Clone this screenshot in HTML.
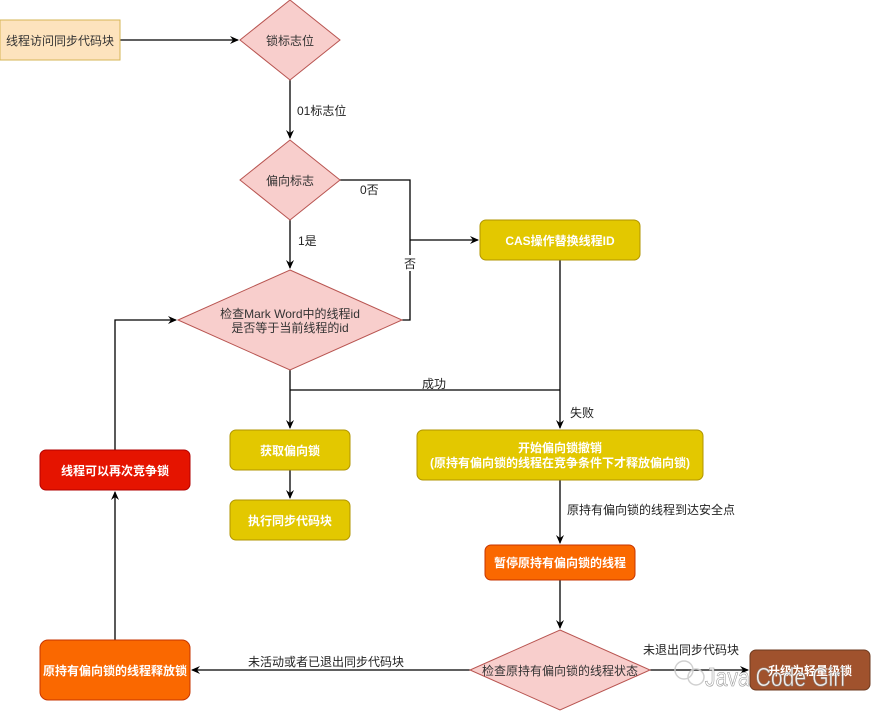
<!DOCTYPE html>
<html><head><meta charset="utf-8"><style>
html,body{margin:0;padding:0;background:#fff;}
svg{display:block;font-family:"Liberation Sans","Noto Sans CJK SC",sans-serif;}
</style></head><body>
<svg width="871" height="711" viewBox="0 0 871 711" xmlns="http://www.w3.org/2000/svg">
<defs><marker id="a" markerWidth="10" markerHeight="10" refX="8" refY="5" orient="auto" markerUnits="userSpaceOnUse"><path d="M0,1 L9,5 L0,9 L3,5 Z" fill="#000"/></marker></defs>
<g stroke="#000" stroke-width="1.3" fill="none">
<path d="M120,40 H238" marker-end="url(#a)"/>
<path d="M290,80 V138" marker-end="url(#a)"/>
<path d="M290,220 V268" marker-end="url(#a)"/>
<path d="M340,180 H410 V320 H402"/>
<path d="M410,240 H478" marker-end="url(#a)"/>
<path d="M290,370 V428" marker-end="url(#a)"/>
<path d="M290,390 H560"/>
<path d="M560,260 V428" marker-end="url(#a)"/>
<path d="M290,470 V498" marker-end="url(#a)"/>
<path d="M560,480 V543" marker-end="url(#a)"/>
<path d="M560,580 V628" marker-end="url(#a)"/>
<path d="M650,670 H748" marker-end="url(#a)"/>
<path d="M470,670 H192" marker-end="url(#a)"/>
<path d="M115,640 V492" marker-end="url(#a)"/>
<path d="M115,450 V320 H176" marker-end="url(#a)"/>
</g>
<rect x="0" y="20" width="120" height="40" fill="#fde3bd" stroke="#d6b656"/>
<text x="60" y="45" font-size="12" text-anchor="middle" fill="#333">线程访问同步代码块</text>
<polygon points="290,0 340,40 290,80 240,40" fill="#f8cecc" stroke="#b85450"/>
<text x="290" y="45" font-size="12" text-anchor="middle" fill="#333">锁标志位</text>
<polygon points="290,140 340,180 290,220 240,180" fill="#f8cecc" stroke="#b85450"/>
<text x="290" y="185" font-size="12" text-anchor="middle" fill="#333">偏向标志</text>
<polygon points="290,270 402,320 290,370 178,320" fill="#f8cecc" stroke="#b85450"/>
<text x="290" y="318" font-size="12" text-anchor="middle" fill="#333">检查Mark Word中的线程id</text>
<text x="290" y="332" font-size="12" text-anchor="middle" fill="#333">是否等于当前线程的id</text>
<polygon points="560,630 650,670 560,710 470,670" fill="#f8cecc" stroke="#b85450"/>
<text x="560" y="675" font-size="12" text-anchor="middle" fill="#333">检查原持有偏向锁的线程状态</text>
<g font-size="12" fill="#222">
<text x="297" y="115">01标志位</text>
<text x="360" y="194">0否</text>
<text x="298" y="245">1是</text>
<rect x="403" y="255" width="14" height="16" fill="#fff"/>
<text x="404" y="268">否</text>
<text x="422" y="388">成功</text>
<text x="570" y="417">失败</text>
<text x="567" y="514">原持有偏向锁的线程到达安全点</text>
<text x="643" y="654">未退出同步代码块</text>
<text x="248" y="666">未活动或者已退出同步代码块</text>
</g>
<g font-size="12" font-weight="bold" fill="#fff" text-anchor="middle">
<rect x="480" y="220" width="160" height="40" rx="6" fill="#e3c800" stroke="#b09500"/>
<text x="560" y="245">CAS操作替换线程ID</text>
<rect x="230" y="430" width="120" height="40" rx="6" fill="#e3c800" stroke="#b09500"/>
<text x="290" y="455">获取偏向锁</text>
<rect x="230" y="500" width="120" height="40" rx="6" fill="#e3c800" stroke="#b09500"/>
<text x="290" y="525">执行同步代码块</text>
<rect x="417" y="430" width="286" height="50" rx="6" fill="#e3c800" stroke="#b09500"/>
<text x="560" y="452">开始偏向锁撤销</text>
<text x="560" y="467">(原持有偏向锁的线程在竞争条件下才释放偏向锁)</text>
<rect x="485" y="545" width="150" height="35" rx="6" fill="#fa6800" stroke="#c73500"/>
<text x="560" y="567">暂停原持有偏向锁的线程</text>
<rect x="40" y="450" width="150" height="40" rx="6" fill="#e51400" stroke="#b20000"/>
<text x="115" y="475">线程可以再次竞争锁</text>
<rect x="40" y="640" width="150" height="60" rx="8" fill="#fa6800" stroke="#c73500"/>
<text x="115" y="675">原持有偏向锁的线程释放锁</text>
<rect x="750" y="650" width="120" height="40" rx="6" fill="#a0522d" stroke="#6d3a1f"/>
<text x="810" y="675">升级为轻量级锁</text>
</g>
<g opacity="0.9">
<circle cx="684" cy="670" r="9" fill="none" stroke="#ccc" stroke-width="1.5"/>
<circle cx="696" cy="677" r="8" fill="none" stroke="#ccc" stroke-width="1.5"/>
<text x="705" y="686" font-size="26" textLength="140" lengthAdjust="spacingAndGlyphs" fill="#fff" stroke="#888" stroke-width="0.6">Java Code Girl</text>
</g>
</svg>
</body></html>
